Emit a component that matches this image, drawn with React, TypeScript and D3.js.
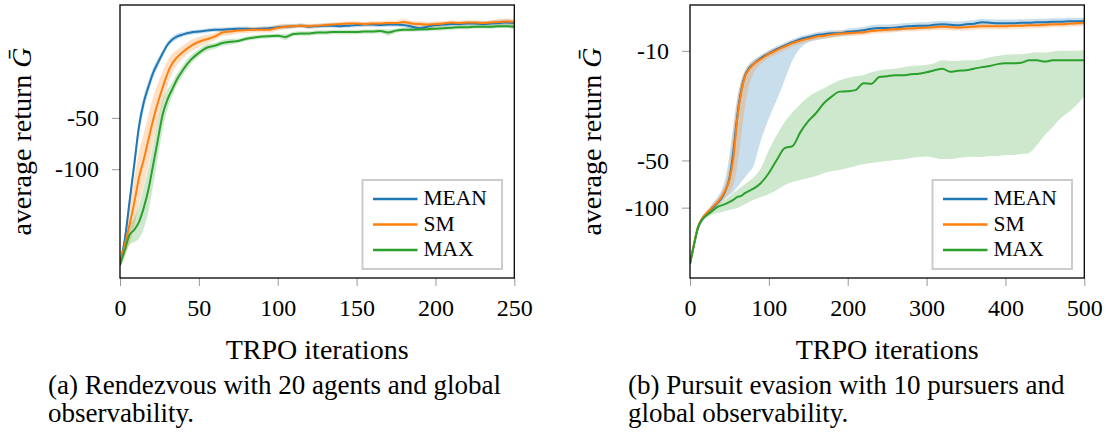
import React, { useEffect, useRef } from 'react';
import * as d3 from 'd3';

// (a) Rendezvous, 20 agents, global observability
const rdvIter = [0, 3, 6, 9, 12, 15, 18, 21, 24, 27, 30, 33, 36, 40, 45, 50, 55, 60, 65, 70, 75, 80, 85, 90, 95, 100, 105, 110, 115, 120, 125, 130, 135, 140, 145, 150, 155, 160, 165, 170, 175, 180, 185, 190, 195, 200, 205, 210, 215, 220, 225, 230, 235, 240, 245, 250];
const rdvMean = [-355, -260, -156, -94.4, -56.5, -40.8, -32.9, -27.2, -23.8, -21.0, -18.7, -17.4, -16.7,
  -16.2, -15.8, -15.6, -15.4, -15.2, -15.2, -15.1, -15.0, -15.0, -15.1,
  -15.0, -14.9, -14.7, -14.6, -14.5, -14.4, -14.6, -14.5, -14.4, -14.4,
  -14.5, -14.4, -14.3, -14.2, -14.2, -14.3, -14.2, -14.2, -14.3, -14.6,
  -14.9, -14.6, -14.3, -14.2, -14.1, -14.1, -14.0, -14.0, -14.1, -14.0,
  -13.9, -13.8, -13.9];
const rdvSm = [-355, -278, -212, -158, -112.5, -88.2, -67.3, -51.4, -40.8, -33.3, -27.6, -24.1, -22.2,
  -20.5, -18.9, -17.9, -17.3, -16.7, -15.8, -15.6, -15.4, -15.3, -15.2,
  -15.2, -15.2, -14.8, -14.6, -14.5, -14.4, -14.5, -14.4, -14.3, -14.2,
  -14.1, -14.0, -14.0, -14.1, -14.0, -14.0, -13.9, -13.9, -13.7, -14.0,
  -14.1, -14.2, -14.1, -14.0, -13.8, -13.9, -13.8, -13.8, -13.9, -13.8,
  -13.7, -13.6, -13.7];
const rdvMax = [-365, -298, -243, -227, -204, -169, -132, -94.4, -67.3, -48.0, -39.2, -34.2, -29.9,
  -26.1, -22.8, -20.8, -19.4, -18.9, -18.2, -17.9, -17.7, -17.2, -16.9,
  -16.7, -16.6, -16.5, -16.8, -16.1, -16.0, -16.0, -15.8, -15.8, -15.7,
  -15.7, -15.7, -15.7, -15.6, -15.6, -15.5, -15.8, -15.4, -15.2, -15.2,
  -15.1, -15.1, -15.0, -14.9, -14.8, -14.7, -14.7, -14.6, -14.6, -14.6,
  -14.5, -14.5, -14.6];
// relative half-width of the shaded band
const rdvMeanSpread = [0.03, 0.08, 0.10, 0.12, 0.12, 0.10, 0.08, 0.07, 0.06, 0.05, 0.04, 0.04, 0.04,
  0.03, 0.03, 0.03, 0.03, 0.03, 0.03, 0.03, 0.03, 0.03, 0.03,
  0.03, 0.03, 0.03, 0.03, 0.03, 0.03, 0.03, 0.03, 0.03, 0.03,
  0.03, 0.03, 0.03, 0.03, 0.03, 0.03, 0.03, 0.03, 0.03, 0.04,
  0.04, 0.04, 0.03, 0.03, 0.03, 0.03, 0.03, 0.03, 0.04, 0.04,
  0.04, 0.04, 0.04];
const rdvSmSpread = [0.04, 0.16, 0.30, 0.38, 0.42, 0.42, 0.40, 0.36, 0.30, 0.24, 0.18, 0.14, 0.11,
  0.09, 0.08, 0.07, 0.06, 0.05, 0.05, 0.05, 0.04, 0.04, 0.04,
  0.04, 0.04, 0.04, 0.04, 0.03, 0.03, 0.03, 0.03, 0.03, 0.03,
  0.03, 0.03, 0.03, 0.03, 0.03, 0.03, 0.03, 0.03, 0.04, 0.04,
  0.04, 0.04, 0.04, 0.03, 0.03, 0.03, 0.03, 0.03, 0.03, 0.03,
  0.04, 0.04, 0.04];
const rdvMaxSpread = [0.04, 0.10, 0.14, 0.18, 0.25, 0.32, 0.34, 0.32, 0.28, 0.22, 0.15, 0.10, 0.08,
  0.07, 0.06, 0.05, 0.05, 0.04, 0.04, 0.04, 0.03, 0.03, 0.03,
  0.03, 0.03, 0.03, 0.04, 0.03, 0.03, 0.03, 0.03, 0.03, 0.03,
  0.03, 0.03, 0.03, 0.03, 0.03, 0.03, 0.04, 0.03, 0.03, 0.03,
  0.03, 0.03, 0.03, 0.03, 0.03, 0.03, 0.03, 0.03, 0.03, 0.03,
  0.03, 0.03, 0.03];
const rdvXTicks = [0, 50, 100, 150, 200, 250];
const rdvYTicks = [-50, -100];

// (b) Pursuit evasion, 10 pursuers, global observability
const pevIter = [0, 5, 10, 15, 20, 25, 30, 35, 40, 45, 50, 55, 60, 65, 70, 75, 80,
  90, 100, 110, 120, 130, 140, 150, 160, 170, 180, 190, 200, 210, 220, 230, 240, 250, 260, 270, 280,
  290, 300, 310, 320, 330, 340, 350, 360, 370, 380, 390, 400, 410, 420, 430, 440, 450, 460, 470, 480, 490, 500];
const pevMean = [-228, -173, -135, -120, -111, -105, -99, -93, -87, -78, -65, -44, -26, -17.8, -14.3, -12.9, -12.2,
  -11.1, -10.4, -9.75, -9.26, -8.81, -8.42, -8.18, -7.94, -7.83, -7.71,
  -7.71, -7.55, -7.49, -7.38, -7.22, -7.16, -7.16, -7.11, -7.01, -6.96,
  -6.91, -6.91, -6.81, -6.76, -6.81, -6.86, -6.76, -6.71, -6.57, -6.61,
  -6.66, -6.66, -6.66, -6.61, -6.61, -6.57, -6.57, -6.52, -6.52, -6.48,
  -6.48, -6.44];
const pevMeanLo = [-235, -178, -141, -125, -116, -109.6, -103.5, -97.5, -92, -86.7, -83, -79.4, -73.8, -68.5, -63.7, -59.3, -55,
  -37, -26.9, -20.6, -15.4, -11.5, -9.6, -8.81, -8.55, -8.36, -8.18,
  -8.06, -7.94, -7.83, -7.77, -7.60, -7.54, -7.54, -7.49, -7.38, -7.33,
  -7.28, -7.28, -7.17, -7.12, -7.17, -7.22, -7.12, -7.07, -6.92, -6.96,
  -7.01, -7.01, -7.01, -6.96, -6.96, -6.92, -6.92, -6.87, -6.87, -6.82,
  -6.82, -6.78];
const pevMeanHi = [-222, -168, -131, -115, -106.5, -99, -92, -85.5, -77.1, -64.7, -46.1, -29.7, -19.7, -15.4, -13.3, -12.15, -11.5,
  -10.6, -9.9, -9.33, -8.87, -8.42, -8.06, -7.83, -7.60, -7.49, -7.38,
  -7.38, -7.22, -7.16, -7.01, -6.86, -6.80, -6.80, -6.75, -6.66, -6.61,
  -6.56, -6.56, -6.47, -6.42, -6.47, -6.51, -6.42, -6.37, -6.24, -6.28,
  -6.32, -6.32, -6.32, -6.28, -6.28, -6.24, -6.24, -6.19, -6.19, -6.15,
  -6.15, -6.12];
const pevSm = [-228, -172.6, -132.8, -118, -109.6, -103.5, -97.5, -92, -85.5, -77.1, -66.6, -48.2, -26.9, -18.3, -14.5, -13.1, -12.3,
  -11.3, -10.5, -9.9, -9.4, -8.93, -8.61, -8.36, -8.12, -8.0, -7.88,
  -7.77, -7.71, -7.66, -7.60, -7.46, -7.38, -7.33, -7.27, -7.22, -7.19,
  -7.16, -7.11, -7.06, -7.03, -7.06, -7.09, -7.06, -7.01, -6.96, -6.96,
  -6.96, -6.96, -6.91, -6.91, -6.86, -6.86, -6.81, -6.76, -6.76, -6.71,
  -6.66, -6.63];
const pevSmLo = [-235, -178, -137, -121.6, -113, -106.5, -100.4, -96.1, -92, -86.7, -80.6, -71.6, -53.5, -34.4, -22.2, -16.5, -14.1,
  -12.15, -11.12, -10.5, -9.9, -9.4, -9.0, -8.74, -8.48, -8.36, -8.24,
  -8.12, -8.06, -8.0, -7.94, -7.80, -7.71, -7.66, -7.60, -7.54, -7.51,
  -7.48, -7.43, -7.38, -7.35, -7.38, -7.41, -7.38, -7.33, -7.27, -7.27,
  -7.27, -7.27, -7.22, -7.22, -7.17, -7.17, -7.12, -7.06, -7.06, -7.01,
  -6.96, -6.93];
const pevSmHi = [-222, -168, -129, -115, -106.5, -100.4, -94.7, -88.1, -80.6, -69.6, -53.5, -32.0, -20.6, -15.4, -13.3, -12.3, -11.6,
  -10.8, -10.0, -9.48, -9.0, -8.55, -8.24, -8.0, -7.77, -7.66, -7.55,
  -7.43, -7.38, -7.33, -7.27, -7.14, -7.06, -7.01, -6.96, -6.91, -6.88,
  -6.85, -6.80, -6.76, -6.73, -6.76, -6.78, -6.76, -6.71, -6.66, -6.66,
  -6.66, -6.66, -6.61, -6.61, -6.56, -6.56, -6.52, -6.47, -6.47, -6.42,
  -6.37, -6.34];
const pevMax = [-228, -172.6, -134.5, -119.7, -113, -108, -103.5, -99, -96.8, -94.7, -92, -89.3, -85.5, -84.2, -80.6, -78.2, -75.9,
  -69.6, -60.1, -49.7, -41.7, -40.5, -33.0, -28.1, -24.9, -21.5, -19.5,
  -18.2, -18.1, -17.8, -16.1, -16.2, -14.7, -14.5, -14.3, -14.3, -14.1,
  -14.0, -13.7, -13.3, -13.0, -13.6, -13.4, -13.3, -13.0, -12.7, -12.5,
  -12.15, -12.0, -12.0, -11.9, -11.5, -11.5, -11.7, -11.5, -11.5, -11.5,
  -11.5, -11.5];
const pevMaxLo = [-235, -178, -138.7, -123.3, -116, -113, -109.6, -108, -106.5, -105, -103.5, -101.9, -100.4, -97.5, -94.7, -92, -89.3,
  -85.5, -81.8, -77.1, -71.6, -68.5, -66.6, -64.7, -62.8, -60.1, -58.3,
  -57.5, -55.8, -54.2, -52.7, -51.9, -51.2, -50.5, -49.7, -49.3, -48.2,
  -47.5, -47.2, -48.2, -49.0, -49.0, -48.2, -47.5, -47.3, -47.5, -46.9,
  -46.9, -46.1, -46.1, -45.5, -44.8, -39.9, -34.4, -30.6, -26.9, -24.6,
  -22.2, -19.5];
const pevMaxHi = [-222, -168, -131, -116, -109.6, -103.5, -97.5, -94.7, -92, -88.1, -84.2, -80.6, -77.1, -73.8, -70.6, -67.6, -64.7,
  -55.8, -42.9, -34.4, -28.5, -24.6, -21.8, -19.7, -18.3, -17.3, -16.3,
  -15.4, -14.9, -14.5, -14.3, -13.7, -13.3, -13.1, -13.0, -12.7, -12.5,
  -12.4, -12.3, -12.0, -11.5, -11.6, -11.6, -11.5, -11.5, -11.3, -11.0,
  -10.8, -10.6, -10.5, -10.5, -10.35, -10.2, -10.26, -10.1, -10.0, -10.0,
  -9.97, -9.9];
const pevXTicks = [0, 100, 200, 300, 400, 500];
const pevYTicks = [-10, -50, -100];

const seriesNames = ['MEAN', 'SM', 'MAX'];
const colors = ['#1f77b4', '#ff7f0e', '#2ca02c'];

const FONT = 'Liberation Serif, DejaVu Serif, serif';
const TOP = 5;
const BOTTOM = 278;

type Series = { name: string; color: string; values: number[]; lo: number[]; hi: number[] };
type PanelCfg = {
  id: string; left: number; right: number; xMax: number; yDomain: [number, number];
  xTicks: number[]; yTicks: number[]; iter: number[]; series: Series[];
  labelX: number; caption: string[]; captionX: number;
};

function withSpread(values: number[], spread: number[]) {
  return {
    lo: values.map((v, i) => v * (1 + spread[i])),
    hi: values.map((v, i) => v / (1 + spread[i])),
  };
}

function drawPanel(svg: any, p: PanelCfg) {
  const g = svg.append('g');
  const x = d3.scaleLinear().domain([0, p.xMax]).range([p.left, p.right]);
  const y = d3.scaleLog().domain(p.yDomain).range([BOTTOM, TOP]);
  const idx = d3.range(p.iter.length);

  g.append('clipPath').attr('id', 'clip-' + p.id)
    .append('rect').attr('x', p.left).attr('y', TOP)
    .attr('width', p.right - p.left).attr('height', BOTTOM - TOP);
  const plot = g.append('g').attr('clip-path', `url(#clip-${p.id})`);

  p.series.forEach((s) => {
    const area = d3.area<number>()
      .x((i) => x(p.iter[i]))
      .y0((i) => y(s.lo[i]))
      .y1((i) => y(s.hi[i]))
      .curve(d3.curveMonotoneX);
    plot.append('path').attr('d', area(idx)).attr('fill', s.color).attr('fill-opacity', 0.24);
  });
  p.series.forEach((s) => {
    const line = d3.line<number>()
      .x((i) => x(p.iter[i]))
      .y((i) => y(s.values[i]))
      .curve(d3.curveMonotoneX);
    plot.append('path').attr('d', line(idx)).attr('fill', 'none')
      .attr('stroke', s.color).attr('stroke-width', 2);
  });

  const xAxis = d3.axisBottom(x).tickValues(p.xTicks).tickSize(8).tickPadding(13)
    .tickFormat((d: any) => String(d));
  const ax = g.append('g').attr('transform', `translate(0,${BOTTOM})`).call(xAxis);
  const yAxis = d3.axisLeft(y).tickValues(p.yTicks).tickSize(8).tickPadding(13)
    .tickFormat((d: any) => String(d));
  const ay = g.append('g').attr('transform', `translate(${p.left},0)`).call(yAxis);
  [ax, ay].forEach((a) => {
    a.attr('font-family', null).attr('font-size', null);
    a.select('.domain').remove();
    a.selectAll('line').attr('stroke', '#9a9a9a').attr('stroke-width', 1);
    a.selectAll('text').style('font-family', FONT).style('font-size', '24px').attr('fill', '#000');
  });

  g.append('rect').attr('x', p.left).attr('y', TOP)
    .attr('width', p.right - p.left).attr('height', BOTTOM - TOP)
    .attr('fill', 'none').attr('stroke', '#000').attr('stroke-width', 1.3);

  const ylab = g.append('text')
    .attr('transform', `translate(${p.labelX},${(TOP + BOTTOM) / 2}) rotate(-90)`)
    .attr('text-anchor', 'middle').style('font-family', FONT).style('font-size', '28px');
  ylab.append('tspan').text('average return ');
  ylab.append('tspan').style('font-style', 'italic').text('G\u0304');

  g.append('text').attr('x', (p.left + p.right) / 2).attr('y', 359)
    .attr('text-anchor', 'middle').style('font-family', FONT).style('font-size', '28px')
    .text('TRPO iterations');

  // legend
  const lw = 139.5, lh = 89;
  const lx = p.right - 12.3 - lw, ly = BOTTOM - 9 - lh;
  const leg = g.append('g').attr('transform', `translate(${lx},${ly})`);
  leg.append('rect').attr('width', lw).attr('height', lh).attr('fill', '#fff')
    .attr('stroke', '#cccccc').attr('stroke-width', 2);
  p.series.forEach((s, i) => {
    const yy = 19 + i * 25.5;
    leg.append('line').attr('x1', 10.5).attr('x2', 55).attr('y1', yy).attr('y2', yy)
      .attr('stroke', s.color).attr('stroke-width', 2.5);
    leg.append('text').attr('x', 61).attr('y', yy + 6).style('font-family', FONT)
      .style('font-size', '21.5px').text(s.name);
  });

  p.caption.forEach((c, i) => {
    g.append('text').attr('x', p.captionX).attr('y', 394 + i * 28)
      .style('font-family', FONT).style('font-size', '27px').text(c);
  });
}

export default function App() {
  const ref = useRef<SVGSVGElement>(null);
  useEffect(() => {
    const svg = d3.select(ref.current);
    svg.selectAll('*').remove();

    const rdvSpreads = [rdvMeanSpread, rdvSmSpread, rdvMaxSpread];
    const rdvSeries = [rdvMean, rdvSm, rdvMax].map((v, i) => ({
      name: seriesNames[i], color: colors[i], values: v, ...withSpread(v, rdvSpreads[i]),
    }));
    drawPanel(svg, {
      id: 'a', left: 120, right: 514.3, xMax: 250, yDomain: [-434, -10.9],
      xTicks: rdvXTicks, yTicks: rdvYTicks, iter: rdvIter, series: rdvSeries,
      labelX: 31, captionX: 48,
      caption: ['(a) Rendezvous with 20 agents and global', 'observability.'],
    });

    const pevLo = [pevMeanLo, pevSmLo, pevMaxLo];
    const pevHi = [pevMeanHi, pevSmHi, pevMaxHi];
    const pevSeries = [pevMean, pevSm, pevMax].map((v, i) => ({
      name: seriesNames[i], color: colors[i], values: v, lo: pevLo[i], hi: pevHi[i],
    }));
    drawPanel(svg, {
      id: 'b', left: 690, right: 1084.3, xMax: 500, yDomain: [-281, -5.1],
      xTicks: pevXTicks, yTicks: pevYTicks, iter: pevIter, series: pevSeries,
      labelX: 601, captionX: 628,
      caption: ['(b) Pursuit evasion with 10 pursuers and', 'global observability.'],
    });
  }, []);

  return (
    <svg
      ref={ref}
      width={1109}
      height={438}
      style={{ position: 'absolute', left: 0, top: 0, background: '#fff', fontFamily: FONT }}
    />
  );
}
